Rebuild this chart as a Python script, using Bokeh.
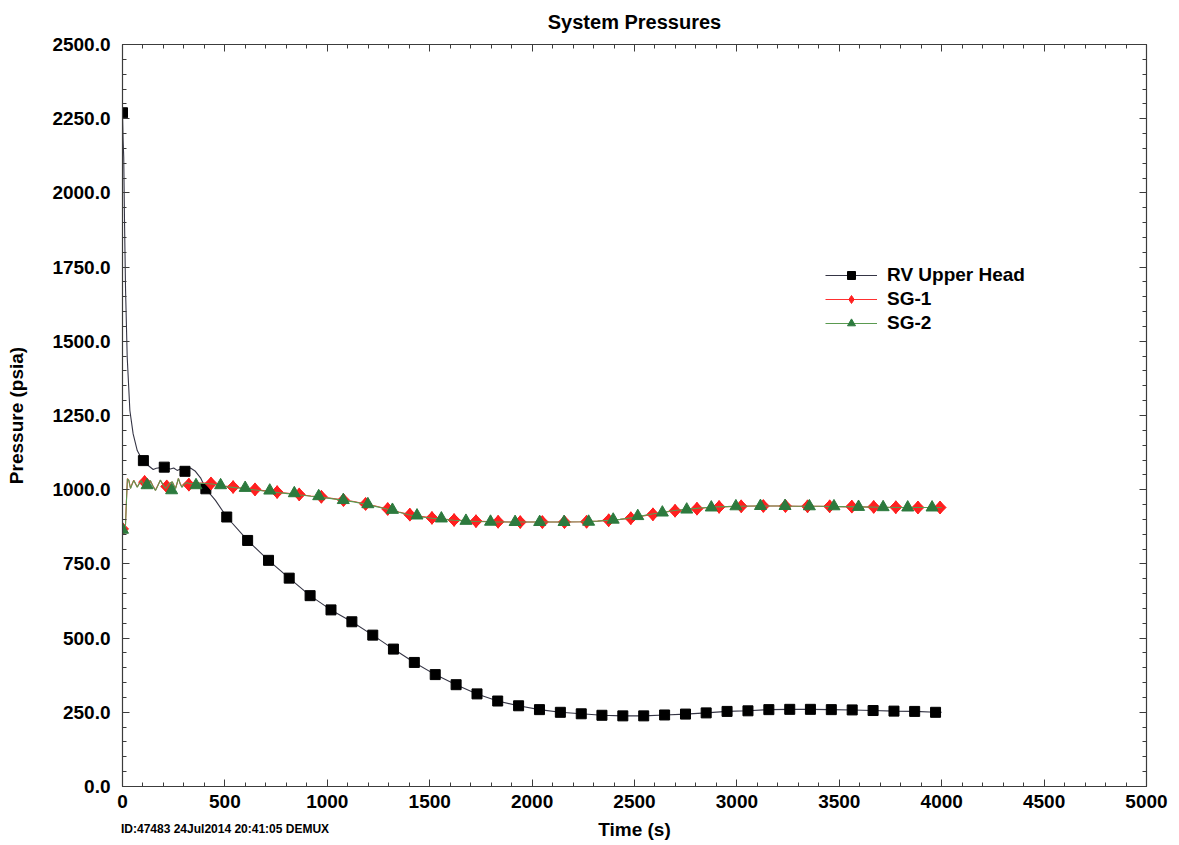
from bokeh.plotting import figure
from bokeh.layouts import column
from bokeh.models import (LinearAxis, NumeralTickFormatter, Div, Legend, LegendItem,
                          SingleIntervalTicker, Range1d)
from bokeh.embed import file_html
from bokeh.resources import INLINE
import math

FONT = "Liberation Sans"

# ---------------- data ----------------
title_text = "System Pressures"
x_label = "Time (s)"
y_label = "Pressure (psia)"
footer_text = "ID:47483 24Jul2014 20:41:05 DEMUX"
series_names = ["RV Upper Head", "SG-1", "SG-2"]

# RV Upper Head continuous line
rv_line_t = [0, 3, 6, 10, 15, 23, 36, 52, 72, 96, 102, 130, 150, 165, 204, 234, 250,
             267, 283, 305, 332, 356, 381, 407, 454, 509, 611, 713, 814, 916, 1018,
             1120, 1222, 1323, 1425, 1527, 1629, 1731, 1832, 1934, 2036, 2138, 2240,
             2341, 2443, 2545, 2647, 2749, 2850, 2952, 3054, 3156, 3258, 3359, 3461,
             3563, 3665, 3767, 3868, 3970, 4000]
rv_line_p = [2270, 2177, 2121, 1897, 1671, 1446, 1267, 1188, 1132, 1101, 1098, 1079,
             1068, 1072, 1076, 1070, 1073, 1065, 1070, 1062, 1073, 1062, 1040, 1003,
             964, 908, 829, 762, 702, 643, 595, 555, 510, 463, 418, 377, 343, 312, 288,
             272, 259, 250, 245, 240, 238, 238, 241, 244, 248, 253, 255, 259, 260, 260,
             259, 258, 256, 254, 253, 250, 250]

# RV Upper Head markers
rv_mark_t = [0, 102, 204, 305, 407, 509, 611, 713, 814, 916, 1018, 1120, 1222, 1323,
             1425, 1527, 1629, 1731, 1832, 1934, 2036, 2138, 2240, 2341, 2443, 2545,
             2647, 2749, 2850, 2952, 3054, 3156, 3258, 3359, 3461, 3563, 3665, 3767,
             3868, 3970]
rv_mark_p = [2270, 1098, 1076, 1062, 1003, 908, 829, 762, 702, 643, 595, 555, 510,
             463, 418, 377, 343, 312, 288, 272, 259, 250, 245, 240, 238, 238, 241,
             244, 248, 253, 255, 259, 260, 260, 259, 258, 256, 254, 253, 250]

# SG continuous lines (SG-1 and SG-2 nearly coincide)
sg_line_t = [0, 14, 19, 24, 31, 39, 47, 55, 63, 72, 82, 92, 102, 112, 124, 136, 148,
             161, 173, 185, 197, 210, 226, 243, 251, 259, 266, 273, 281, 290, 300, 312,
             330, 360, 400, 440, 500, 550, 600, 650, 700, 760, 820, 870, 920, 975,
             1030, 1081, 1130, 1187, 1240, 1295, 1350, 1402, 1455, 1512, 1565, 1618,
             1670, 1724, 1780, 1833, 1900, 1950, 2050, 2150, 2250, 2320, 2375, 2430,
             2480, 2530, 2586, 2640, 2695, 2750, 2803, 2850, 2900, 2950, 3000, 3100,
             3200, 3300, 3400, 3500, 3600, 3700, 3800, 3900, 4000]
sg1_line_p = [868, 872, 960, 1038, 1030, 1005, 1020, 1032, 1020, 1009, 1022, 1030,
              1018, 1008, 1022, 1030, 1014, 998, 1015, 1032, 1018, 1005, 1020, 1026,
              1015, 1005, 1020, 1038, 1022, 1009, 1018, 1025, 1020, 1022, 1022, 1020,
              1012, 1008, 1004, 1000, 996, 991, 987, 983, 979, 975, 970, 965, 960, 952,
              944, 935, 925, 916, 910, 905, 901, 898, 896, 894, 893, 892, 891, 891,
              891, 891, 892, 894, 897, 900, 904, 910, 917, 923, 929, 933, 936, 939,
              941, 943, 944, 945, 945, 944, 944, 943, 942, 941, 940, 940, 940]
sg2_line_p = [865, 870, 955, 1036, 1032, 1004, 1018, 1031, 1022, 1008, 1020, 1031,
              1016, 1007, 1021, 1031, 1012, 997, 1014, 1033, 1017, 1004, 1019, 1027,
              1014, 1004, 1021, 1038, 1021, 1008, 1017, 1024, 1020, 1022, 1021, 1019,
              1011, 1007, 1003, 999, 995, 990, 986, 982, 978, 974, 969, 964, 959, 951,
              943, 934, 924, 915, 909, 904, 900, 897, 895, 893, 892, 891, 891, 891,
              891, 891, 892, 894, 897, 900, 905, 911, 918, 924, 930, 934, 937, 940,
              942, 943, 944, 945, 945, 944, 944, 943, 942, 941, 940, 940, 940]

# SG-1 markers (diamonds)
sg1_mark_t = [0, 108, 216, 324, 432, 540, 647, 755, 863, 971, 1079, 1187, 1295, 1403,
              1511, 1619, 1726, 1834, 1942, 2050, 2158, 2266, 2374, 2482, 2590, 2698,
              2805, 2913, 3021, 3129, 3237, 3345, 3453, 3561, 3668, 3776, 3884, 3992]
sg1_mark_p = [868, 1026, 1011, 1017, 1021, 1009, 1001, 992, 984, 976, 965, 952, 935,
              916, 905, 898, 894, 892, 891, 891, 891, 892, 897, 904, 917, 929, 936,
              942, 944, 945, 945, 944, 944, 943, 942, 941, 940, 940]

# SG-2 markers (triangles)
sg2_mark_t = [0, 120, 240, 359, 479, 599, 719, 839, 958, 1078, 1198, 1318, 1438, 1557,
              1677, 1797, 1917, 2037, 2156, 2276, 2396, 2516, 2636, 2755, 2875, 2995,
              3115, 3235, 3354, 3474, 3594, 3714, 3834, 3953]
sg2_mark_p = [865, 1015, 998, 1015, 1015, 1006, 997, 988, 978, 965, 951, 932, 913, 903,
              895, 892, 891, 891, 891, 892, 899, 911, 923, 933, 940, 944, 945, 945,
              944, 944, 942, 941, 940, 940]

# ---------------- figure ----------------
p = figure(width=1179, height=845, output_backend="svg", toolbar_location=None,
           x_range=Range1d(0, 5000), y_range=Range1d(0, 2500),
           x_axis_label=x_label, y_axis_label=y_label,
           min_border_left=122, min_border_right=33, min_border_top=44,
           min_border_bottom=59, background_fill_color="white",
           border_fill_color="white")
p.title.text = title_text
p.title.align = "center"
p.title.vertical_align = "top"
p.title.standoff = 20
p.title.text_font = FONT
p.title.text_font_style = "bold"
p.title.text_font_size = "20px"
p.title.text_color = "black"
p.grid.visible = False
p.outline_line_color = None

AX_COLOR = "#3c3c3c"


def style_axis(ax):
    ax.axis_line_color = AX_COLOR
    ax.axis_line_width = 1.2
    ax.major_tick_line_color = AX_COLOR
    ax.minor_tick_line_color = AX_COLOR
    ax.major_tick_in = 7
    ax.major_tick_out = 0
    ax.minor_tick_in = 4
    ax.minor_tick_out = 0
    ax.major_label_text_font = FONT
    ax.major_label_text_font_style = "bold"
    ax.major_label_text_font_size = "19px"
    ax.major_label_text_color = "black"
    ax.axis_label_text_font = FONT
    ax.axis_label_text_font_style = "bold"
    ax.axis_label_text_font_size = "19px"
    ax.axis_label_text_color = "black"


p.xaxis.ticker = SingleIntervalTicker(interval=500, num_minor_ticks=5)
p.yaxis.ticker = SingleIntervalTicker(interval=250, num_minor_ticks=5)
p.yaxis.formatter = NumeralTickFormatter(format="0.0")
for ax in list(p.xaxis) + list(p.yaxis):
    style_axis(ax)
p.xaxis.major_label_standoff = 8
p.yaxis.major_label_standoff = 12
p.xaxis.axis_label_standoff = 8
p.yaxis.axis_label_standoff = 22

# frame axes on top and right: ticks only, no labels
top = LinearAxis(ticker=SingleIntervalTicker(interval=500, num_minor_ticks=5))
right = LinearAxis(ticker=SingleIntervalTicker(interval=250, num_minor_ticks=5))
for ax in (top, right):
    style_axis(ax)
    ax.major_label_standoff = 0
top.major_label_overrides = {v: "" for v in range(0, 5001, 500)}
right.major_label_overrides = {v: "" for v in range(0, 2501, 250)}
p.add_layout(top, "above")
p.add_layout(right, "right")

# ---------------- series ----------------
rv_l = p.line(rv_line_t, rv_line_p, line_color="#353545", line_width=1.1)
rv_m = p.scatter(rv_mark_t, rv_mark_p, marker="square", size=10, fill_color="black",
                 line_color="black")

sg1_l = p.line(sg_line_t, sg1_line_p, line_color="#ff3030", line_width=1.1)
sg1_m = p.scatter(sg1_mark_t, sg1_mark_p, marker="diamond", size=13,
                  fill_color="#ff2020", line_color="#ff2020")
p.scatter(sg1_mark_t, sg1_mark_p, marker="square", angle=math.pi / 4, size=8.5,
          fill_color="#ff2020", line_color="#ff2020")

sg2_l = p.line(sg_line_t, sg2_line_p, line_color="#5a9a50", line_width=1.1)
sg2_m = p.scatter(sg2_mark_t, sg2_mark_p, marker="triangle", size=12,
                  fill_color="#2d7a3e", line_color="#2d7a3e")

leg = Legend(items=[
    LegendItem(label=series_names[0], renderers=[rv_l, rv_m]),
    LegendItem(label=series_names[1], renderers=[sg1_l, sg1_m]),
    LegendItem(label=series_names[2], renderers=[sg2_l, sg2_m]),
])
leg.location = (703, 452)
leg.padding = 0
leg.margin = 0
leg.spacing = 2
leg.glyph_width = 52
leg.glyph_height = 20
leg.label_height = 20
leg.label_standoff = 10
leg.label_text_font = FONT
leg.label_text_font_style = "bold"
leg.label_text_font_size = "19px"
leg.label_text_color = "black"
leg.border_line_color = None
leg.background_fill_alpha = 0
p.add_layout(leg)

# footer note under the plot's bottom-left corner
footer = Div(text=footer_text, width=400, height=16, margin=(-24, 0, 0, 121),
             styles={"font-family": FONT, "font-weight": "bold",
                     "font-size": "12px", "color": "black",
                     "line-height": "16px"})

layout = column(p, footer, spacing=0)
open("out.html", "w").write(file_html(layout, INLINE))
